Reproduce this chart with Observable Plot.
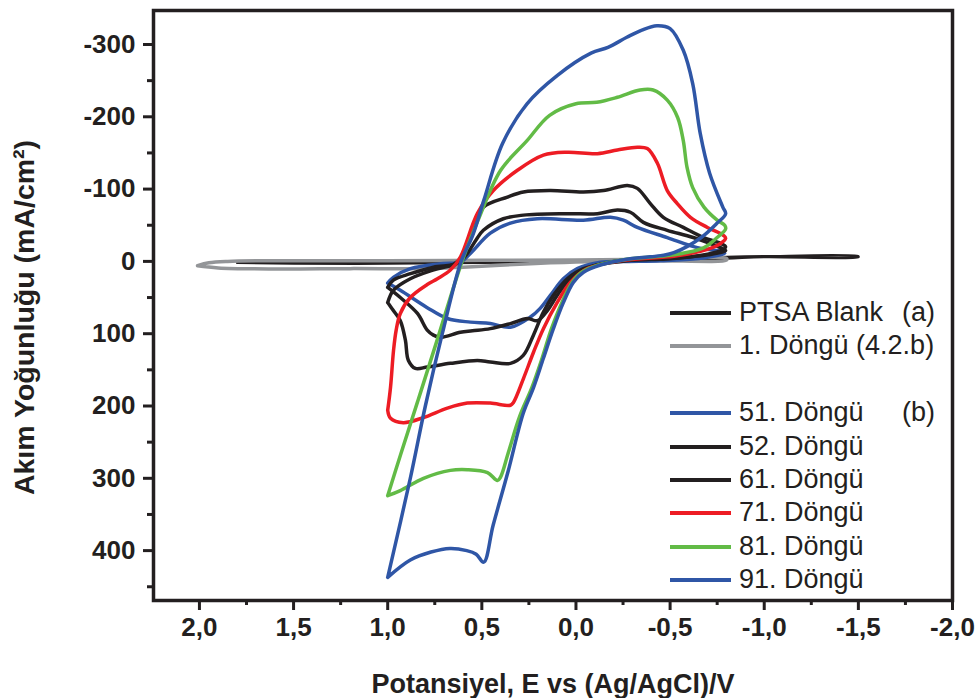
<!DOCTYPE html>
<html><head><meta charset="utf-8">
<script src="https://cdn.jsdelivr.net/npm/d3@7"></script>
<script src="https://cdn.jsdelivr.net/npm/@observablehq/plot@0.6"></script>
<style>
body{margin:0;background:#fff;}
#wrap{position:relative;width:979px;height:698px;}
#legend{position:absolute;left:670px;top:296px;font-family:"Liberation Sans",Arial,sans-serif;font-size:27px;color:#231f20;}
.row{position:relative;height:33.4px;width:280px;}
.sw{position:absolute;left:0;top:15px;width:61px;height:4px;}
.lab{position:absolute;left:69px;top:0;line-height:33.4px;white-space:nowrap;}
.note{position:absolute;left:232px;top:0;line-height:33.4px;white-space:nowrap;}
</style>
</head><body>
<div id="wrap"><div id="chart"></div><div id="legend"></div></div>
<script>
// ---- data: [E (V), current density (mA/cm2)] ----
const ptsa = [[1.8,2],[1.5,1],[1.0,0],[0.5,-1],[0.0,-1.5],[-0.5,-3],[-0.8,-6],[-1.0,-7],[-1.5,-7],
  [-1.5,-6],[-1.0,-6],[-0.8,-4],[-0.4,-1],[0.0,0],[0.5,2],[1.0,3],[1.5,3],[1.8,2]];
const cyc1 = [[2.01,6],[1.95,2],[1.85,0],[1.6,-1],[1.0,-1],[0.5,-1.5],[0.0,-2],[-0.4,-3],[-0.8,-4],
  [-0.8,-2],[-0.4,-1],[0.0,1],[0.3,4],[0.6,8],[0.8,10],[1.2,10],[1.6,10.5],[1.9,9],[2.01,6]];
const cyc51 = [[1.0,30],[0.97,22],[0.879,10],[0.704,3],[0.614,1],[0.561,-11],[0.455,-39],[0.348,-53],[0.205,-59],
  [-0.039,-57],[-0.183,-61],[-0.252,-57],[-0.326,-47],[-0.485,-33],[-0.645,-19],[-0.78,-13],
  [-0.79,-11],[-0.65,-4],[-0.45,-1],[-0.27,0],[-0.13,1],[-0.007,10],[0.067,24],[0.136,47],[0.19,65],
  [0.242,77],[0.348,91],[0.455,86],[0.561,84],[0.683,79],[0.79,64],[0.933,40],[1.0,30]];
const cyc52 = [[1.0,36],[0.97,26],[0.879,17],[0.757,8],[0.63,3],[0.58,-10],[0.53,-30],[0.492,-43],[0.386,-59],
  [0.279,-64],[0.046,-66],[-0.114,-66],[-0.22,-71],[-0.289,-68],[-0.358,-54],[-0.485,-43],[-0.623,-33],[-0.767,-19],
  [-0.795,-15],[-0.7,-9],[-0.55,-5],[-0.4,-3],[-0.2,0],[-0.04,12],[0.03,24],[0.1,47],[0.152,68],[0.205,82],
  [0.258,79],[0.348,86],[0.455,93],[0.55,96],[0.614,98],[0.72,105],[0.757,102],[0.79,95],[0.842,72],[0.933,50],[1.0,36]];
const cyc61 = [[1.0,57],[0.97,40],[0.88,24],[0.76,12],[0.65,4],[0.60,-8],[0.55,-45],[0.492,-75],[0.364,-89],
  [0.279,-96],[0.136,-98],[-0.039,-96],[-0.146,-98],[-0.273,-105],[-0.326,-101],[-0.395,-80],[-0.464,-61],
  [-0.57,-47],[-0.677,-33],[-0.767,-25],
  [-0.795,-20],[-0.75,-13],[-0.6,-6],[-0.45,-3],[-0.27,-1],[-0.04,10],[0.046,24],[0.12,47],[0.173,70],
  [0.226,102],[0.28,130],[0.348,141],[0.455,139],[0.524,137],[0.667,141],[0.789,146],[0.853,148],[0.89,137],
  [0.906,109],[0.933,82],[0.97,68],[1.0,57]];
const cyc71 = [[1.0,206],[0.985,174],[0.969,123],[0.955,95],[0.933,72],[0.88,50],[0.79,32],[0.736,24],[0.667,12],
  [0.614,-6],[0.524,-66],[0.439,-98],[0.311,-126],[0.173,-147],[0.046,-151],[-0.114,-149],[-0.22,-154],
  [-0.326,-158],[-0.379,-156],[-0.432,-136],[-0.485,-98],[-0.538,-80],[-0.608,-61],[-0.698,-47],[-0.783,-36],
  [-0.795,-32],[-0.75,-22],[-0.66,-14],[-0.52,-7],[-0.27,-2],[-0.06,10],[0.03,29],[0.1,57],[0.173,93],
  [0.226,126],[0.279,162],[0.332,195],[0.348,199],[0.455,196],[0.577,196],[0.683,203],[0.81,216],[0.917,223],
  [0.985,217],[1.0,206]];
const cyc81 = [[1.0,324],[0.93,266],[0.84,193],[0.74,111],[0.605,0],[0.52,-57],[0.40,-126],[0.26,-167],[0.14,-202],
  [0.0,-218],[-0.11,-220],[-0.22,-227],[-0.34,-237],[-0.41,-237],[-0.485,-223],[-0.54,-199],[-0.57,-167],
  [-0.59,-130],[-0.62,-102],[-0.68,-75],[-0.75,-57],[-0.79,-50],
  [-0.795,-45],[-0.75,-33],[-0.68,-19],[-0.52,-9],[-0.27,-3],[-0.12,5],[-0.03,15],[0.02,29],[0.075,57],
  [0.13,93],[0.18,134],[0.235,175],[0.30,215],[0.36,265],[0.40,298],[0.417,303],[0.47,292],[0.577,288],
  [0.667,289],[0.81,300],[0.933,317],[1.0,324]];
const cyc91 = [[1.0,437],[0.88,300],[0.80,200],[0.71,100],[0.61,0],[0.55,-35],[0.49,-84],[0.39,-163],[0.26,-218],
  [0.10,-257],[-0.08,-288],[-0.17,-296],[-0.27,-310],[-0.35,-320],[-0.43,-326],[-0.50,-322],[-0.57,-292],
  [-0.62,-246],[-0.66,-177],[-0.71,-122],[-0.78,-75],
  [-0.795,-66],[-0.75,-53],[-0.66,-32],[-0.52,-12],[-0.45,-8],[-0.27,-3],[-0.13,5],[-0.04,15],[0.014,29],
  [0.067,57],[0.12,93],[0.173,134],[0.226,175],[0.28,210],[0.36,290],[0.44,365],[0.49,416],[0.53,405],
  [0.58,400],[0.67,397],[0.77,402],[0.88,413],[1.0,437]];

const seriesNames = ["PTSA Blank", "1. Döngü (4.2.b)", "51. Döngü", "52. Döngü", "61. Döngü", "71. Döngü", "81. Döngü", "91. Döngü"];
const seriesColors = ["#231f20", "#939598", "#2f56a6", "#231f20", "#231f20", "#ed1c24", "#62bb46", "#2f56a6"];
const seriesData = [ptsa, cyc1, cyc51, cyc52, cyc61, cyc71, cyc81, cyc91];
const legendNotes = ["(a)", "", null, "(b)", "", "", "", "", ""];

const xTicks = [2.0, 1.5, 1.0, 0.5, 0.0, -0.5, -1.0, -1.5, -2.0];
const xMinor = [1.75, 1.25, 0.75, 0.25, -0.25, -0.75, -1.25, -1.75];
const yTicks = [-300, -200, -100, 0, 100, 200, 300, 400];
const yMinor = [-250, -150, -50, 50, 150, 250, 350, 450];
const xTitle = "Potansiyel, E vs (Ag/AgCl)/V";
const yTitle = "Akım Yoğunluğu (mA/cm²)";

const font = '"Liberation Sans", Arial, sans-serif';

const lineMarks = seriesData.map((pts, i) => Plot.line(pts.map(([E, I]) => ({E, I})), {
  x: "E", y: "I", stroke: seriesColors[i], strokeWidth: i === 0 ? 2.5 : 3.5, curve: "catmull-rom"
}));

const chart = Plot.plot({
  width: 979, height: 698,
  marginLeft: 153, marginRight: 27, marginTop: 10, marginBottom: 98,
  style: {fontFamily: font, color: "#231f20", background: "#fff"},
  x: {domain: [2.244, -2.0]},
  y: {domain: [469, -347]},
  marks: [
    ...lineMarks,
    Plot.frame({stroke: "#231f20", strokeWidth: 3.5}),
    Plot.axisX(xMinor, {tickSize: 5, strokeWidth: 3, tickFormat: () => "", label: null}),
    Plot.axisY(yMinor, {tickSize: 6, strokeWidth: 3, tickFormat: () => "", label: null}),
    Plot.axisX(xTicks, {tickSize: 10, tickPadding: 7, strokeWidth: 3, fontSize: 26, fontWeight: "bold",
      tickFormat: d => d.toFixed(1).replace(".", ","), label: null}),
    Plot.axisY(yTicks, {tickSize: 10, tickPadding: 8, strokeWidth: 3, fontSize: 26, fontWeight: "bold",
      tickFormat: d => String(d), label: null}),
    Plot.text([xTitle], {frameAnchor: "bottom", dy: 92, lineAnchor: "bottom", textAnchor: "middle",
      fontSize: 27, fontWeight: "bold", fill: "#231f20"}),
    Plot.text([yTitle], {frameAnchor: "left", dx: -140, dy: 12, rotate: -90, lineAnchor: "top", textAnchor: "middle",
      fontSize: 28.5, fontWeight: "bold", fill: "#231f20"})
  ]
});
document.getElementById("chart").appendChild(chart);

// legend
const leg = document.getElementById("legend");
const rows = [0, 1, null, 2, 3, 4, 5, 6, 7];
rows.forEach((i, k) => {
  const r = document.createElement("div");
  r.className = "row";
  if (i !== null) {
    const sw = document.createElement("div");
    sw.className = "sw"; sw.style.background = seriesColors[i];
    const lab = document.createElement("div");
    lab.className = "lab"; lab.textContent = seriesNames[i];
    r.appendChild(sw); r.appendChild(lab);
    if (legendNotes[k]) {
      const n = document.createElement("div");
      n.className = "note"; n.textContent = legendNotes[k];
      r.appendChild(n);
    }
  }
  leg.appendChild(r);
});
</script>
</body></html>
